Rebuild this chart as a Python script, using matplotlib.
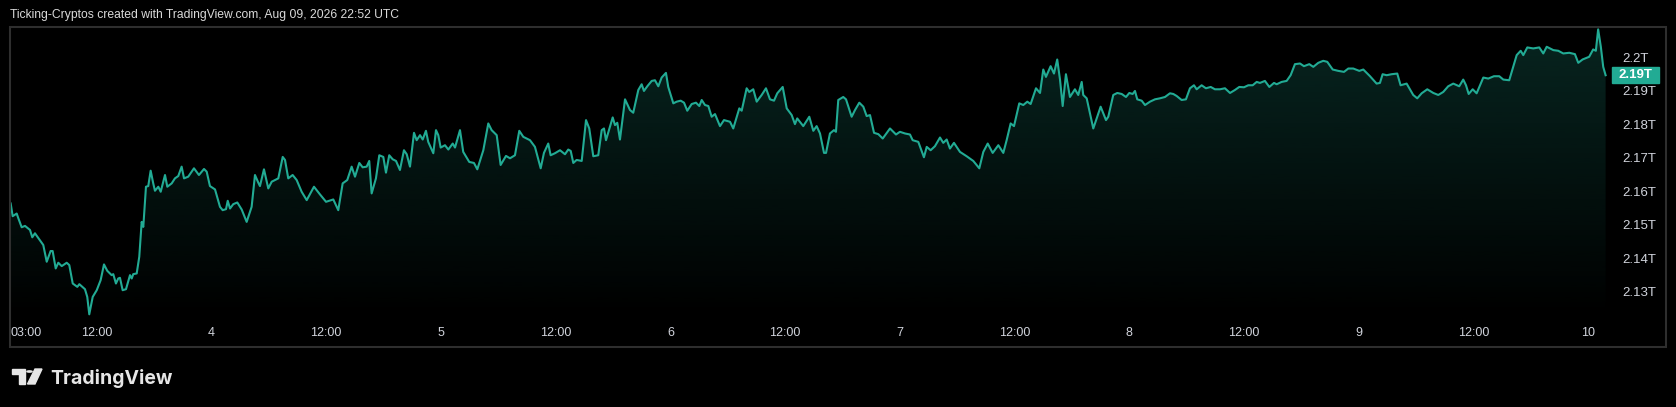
import numpy as np
import matplotlib.pyplot as plt
from matplotlib.patches import Rectangle, Polygon, Circle
from matplotlib.transforms import blended_transform_factory
from matplotlib.ticker import FuncFormatter

# hours since Aug 3 00:00 (chart time zone)
hours = [
    3.00, 3.21, 3.63, 3.80, 4.15, 4.50, 5.02, 5.26, 5.54, 6.41, 6.77, 7.18, 7.39, 7.71, 7.98, 8.34,
    8.86, 9.13, 9.49, 9.97, 10.18, 10.77, 11.01, 11.22, 11.58, 12.00, 12.41, 12.76, 13.10, 13.56, 13.73, 14.01,
    14.25, 14.43, 14.71, 15.06, 15.48, 15.66, 15.82, 16.18, 16.45, 16.70, 16.87, 17.15, 17.39, 17.64, 17.91, 18.09,
    18.44, 18.69, 19.14, 19.38, 19.84, 20.18, 20.53, 20.88, 21.13, 21.57, 22.17, 22.69, 23.22, 23.50, 23.84, 24.37,
    24.89, 25.17, 25.52, 25.70, 25.94, 26.28, 26.70, 27.16, 27.68, 28.20, 28.55, 28.90, 29.07, 29.49, 29.94, 30.30,
    30.99, 31.45, 31.69, 32.03, 32.49, 32.91, 33.43, 33.96, 34.72, 35.35, 35.98, 36.74, 37.26, 37.72, 38.20, 38.66,
    39.01, 39.46, 39.81, 40.23, 40.50, 40.75, 41.20, 41.55, 41.97, 42.25, 42.59, 42.95, 43.30, 43.71, 44.13, 44.42,
    44.76, 45.18, 45.46, 45.81, 46.09, 46.43, 46.67, 47.20, 47.48, 47.72, 47.97, 48.42, 48.77, 49.23, 49.47, 49.99,
    50.33, 50.96, 51.45, 51.80, 52.43, 52.95, 53.30, 53.83, 54.24, 54.80, 55.22, 55.74, 56.19, 56.61, 57.31, 57.83,
    58.43, 58.77, 59.22, 59.47, 59.92, 60.45, 60.97, 61.31, 61.57, 61.84, 62.19, 62.72, 63.17, 63.51, 63.93, 64.45,
    64.81, 65.05, 65.26, 65.96, 66.20, 66.44, 66.72, 67.25, 67.77, 68.11, 68.64, 68.99, 69.23, 69.58, 70.04, 70.38,
    70.73, 71.08, 71.53, 71.77, 72.30, 72.65, 73.07, 73.42, 73.76, 74.22, 74.67, 75.02, 75.27, 75.61, 75.96, 76.31,
    76.66, 77.18, 77.60, 78.23, 78.57, 79.20, 79.45, 79.97, 80.24, 80.66, 81.02, 81.54, 81.99, 82.41, 82.83, 83.17,
    83.74, 84.16, 84.68, 85.02, 85.26, 85.89, 86.52, 86.94, 87.29, 87.64, 88.06, 88.27, 88.68, 89.10, 89.31, 89.55,
    90.07, 90.36, 90.95, 91.30, 91.75, 92.17, 92.52, 92.87, 93.29, 93.74, 94.20, 94.96, 95.59, 96.00, 96.53, 97.05,
    97.33, 97.92, 98.51, 98.80, 99.21, 99.66, 100.19, 100.53, 100.89, 101.23, 101.65, 102.28, 102.98, 103.67, 104.30, 104.72,
    105.18, 105.70, 106.29, 106.81, 107.16, 107.58, 107.93, 108.48, 108.90, 109.32, 109.67, 110.23, 110.65, 110.99, 111.27, 111.76,
    112.11, 112.45, 112.74, 113.02, 113.36, 113.78, 114.30, 114.65, 115.01, 115.17, 115.53, 116.22, 116.99, 117.55, 117.79, 118.31,
    118.73, 119.19, 119.64, 119.99, 120.34, 120.58, 120.82, 121.28, 121.63, 122.15, 122.67, 123.19, 123.72, 124.24, 124.59, 124.94,
    125.46, 125.91, 126.33, 126.75, 127.03, 127.55, 128.00, 128.50, 128.94, 129.47, 129.99, 130.52, 131.04, 131.49, 131.98, 132.43,
    132.89, 133.31, 133.65, 134.17, 134.63, 135.12, 135.40, 135.92, 136.44, 136.86, 137.31, 137.84, 138.25, 138.81, 139.23, 139.75,
    140.27, 140.69, 141.26, 141.84, 142.44, 142.89, 143.41, 144.04, 144.46, 145.16, 145.85, 146.20, 146.48, 146.90, 147.42, 148.01,
    148.36, 148.99, 149.68, 150.10, 150.56, 151.15, 151.78, 152.30, 152.82, 153.34, 153.87, 154.49, 154.91, 155.20, 155.48, 155.90,
    156.31, 157.01, 157.53, 158.12, 158.68, 159.10, 159.72, 160.08, 160.50, 160.92, 161.19, 161.61, 162.23, 162.86, 163.28, 163.64,
    164.33, 164.85, 165.37, 166.00, 166.59, 166.94, 167.39, 168.08, 168.50, 168.78, 169.02, 169.30, 169.55, 169.80,
]

# total market cap, billions USD
cap_b = [
    2156.3, 2152.5, 2153.3, 2151.9, 2149.2, 2149.6, 2148.4, 2146.2, 2147.4, 2143.9, 2138.9, 2142.1, 2142.1, 2136.9, 2138.6, 2137.6,
    2138.6, 2137.9, 2132.4, 2131.4, 2132.2, 2130.7, 2128.4, 2123.2, 2128.4, 2130.4, 2133.4, 2138.1, 2136.2, 2134.9, 2135.2, 2132.4,
    2133.9, 2134.1, 2130.4, 2130.7, 2134.9, 2133.9, 2135.2, 2135.4, 2140.4, 2150.8, 2149.3, 2161.3, 2161.5, 2166.1, 2162.3, 2160.1,
    2161.3, 2159.8, 2164.8, 2161.3, 2162.3, 2163.8, 2164.5, 2167.3, 2163.8, 2164.3, 2166.8, 2164.8, 2166.6, 2165.8, 2161.5, 2160.5,
    2155.3, 2154.3, 2154.6, 2157.1, 2154.8, 2156.1, 2156.6, 2154.5, 2150.8, 2155.3, 2164.8, 2162.5, 2161.5, 2166.5, 2160.8, 2162.8,
    2163.8, 2170.2, 2169.3, 2163.8, 2164.8, 2163.3, 2159.8, 2157.3, 2161.3, 2159.0, 2156.8, 2157.5, 2154.3, 2162.3, 2163.3, 2167.3,
    2164.3, 2168.4, 2167.1, 2167.3, 2169.0, 2159.3, 2163.8, 2170.7, 2170.2, 2165.5, 2170.7, 2169.5, 2169.0, 2166.3, 2172.2, 2171.0,
    2167.3, 2177.4, 2175.2, 2176.7, 2175.4, 2178.0, 2174.7, 2171.3, 2178.2, 2176.7, 2173.0, 2173.7, 2172.4, 2174.2, 2173.0, 2178.2,
    2171.7, 2168.7, 2168.4, 2166.5, 2172.2, 2180.2, 2178.2, 2176.7, 2167.8, 2170.5, 2169.8, 2170.7, 2178.0, 2176.2, 2175.2, 2173.2,
    2166.8, 2171.4, 2174.2, 2170.7, 2171.3, 2172.2, 2171.0, 2172.4, 2172.0, 2168.4, 2169.3, 2169.0, 2181.2, 2178.7, 2170.4, 2170.7,
    2178.2, 2178.7, 2175.2, 2182.0, 2179.7, 2180.4, 2175.4, 2187.4, 2184.2, 2183.4, 2190.2, 2191.9, 2189.9, 2191.3, 2192.9, 2193.1,
    2191.3, 2193.9, 2195.3, 2191.1, 2186.2, 2186.7, 2187.0, 2186.4, 2184.0, 2186.0, 2186.4, 2185.4, 2187.2, 2185.7, 2185.4, 2182.2,
    2183.0, 2179.4, 2181.2, 2180.7, 2178.7, 2184.7, 2184.0, 2190.7, 2189.6, 2190.4, 2186.7, 2188.7, 2190.7, 2187.4, 2187.0, 2189.2,
    2191.1, 2184.7, 2182.7, 2180.0, 2181.7, 2179.4, 2182.2, 2178.0, 2179.4, 2177.2, 2171.4, 2171.4, 2177.2, 2178.2, 2177.7, 2187.2,
    2188.1, 2187.4, 2182.2, 2184.2, 2186.4, 2185.2, 2182.4, 2182.7, 2177.4, 2177.0, 2175.7, 2178.7, 2176.9, 2177.7, 2177.2, 2176.9,
    2175.2, 2174.7, 2170.1, 2173.2, 2172.2, 2173.4, 2176.0, 2174.4, 2175.4, 2172.7, 2174.4, 2171.7, 2170.4, 2169.0, 2166.8, 2171.7,
    2174.2, 2171.4, 2173.7, 2171.4, 2175.2, 2180.2, 2179.4, 2186.2, 2185.7, 2186.7, 2186.0, 2190.7, 2189.3, 2196.3, 2194.1, 2197.3,
    2195.1, 2199.3, 2193.3, 2185.4, 2194.9, 2188.1, 2190.4, 2188.7, 2192.6, 2188.7, 2187.7, 2178.7, 2185.2, 2181.2, 2182.2, 2188.7,
    2189.3, 2189.0, 2188.1, 2189.3, 2189.0, 2189.9, 2187.4, 2187.0, 2185.7, 2186.7, 2187.4, 2187.7, 2188.1, 2189.2, 2189.0, 2188.4,
    2187.2, 2187.4, 2190.7, 2191.6, 2190.4, 2191.6, 2190.7, 2191.1, 2190.4, 2190.4, 2190.7, 2189.3, 2190.2, 2191.1, 2191.0, 2191.6,
    2191.6, 2192.6, 2192.3, 2192.9, 2191.1, 2192.3, 2191.9, 2192.6, 2192.9, 2194.6, 2197.9, 2198.1, 2197.3, 2197.9, 2197.1, 2198.3,
    2198.9, 2198.6, 2196.3, 2195.9, 2195.6, 2196.6, 2196.6, 2195.9, 2196.3, 2194.3, 2192.1, 2192.3, 2194.9, 2194.6, 2194.9, 2195.1,
    2191.6, 2192.1, 2188.7, 2187.7, 2189.2, 2190.4, 2189.3, 2188.7, 2189.6, 2191.3, 2192.1, 2191.3, 2193.3, 2191.6, 2189.0, 2190.4,
    2189.2, 2193.9, 2193.6, 2194.3, 2194.3, 2193.3, 2193.1, 2196.6, 2200.6, 2201.9, 2200.6, 2202.9, 2202.6, 2202.9, 2201.1, 2203.1,
    2202.1, 2201.9, 2201.1, 2201.3, 2200.9, 2198.3, 2199.3, 2200.1, 2202.3, 2201.9, 2208.3, 2203.1, 2197.1, 2194.6,
]

x_ticks = [3, 12, 24, 36, 48, 60, 72, 84, 96, 108, 120, 132, 144, 156, 168]
x_labels = ["03:00", "12:00", "4", "12:00", "5", "12:00", "6", "12:00", "7", "12:00", "8", "12:00", "9", "12:00", "10"]
y_ticks = [2130, 2140, 2150, 2160, 2170, 2180, 2190, 2200]

title = "Ticking-Cryptos created with TradingView.com, Aug 09, 2026 22:52 UTC"

W, H = 1676, 407
teal = "#22ab94"
txt_col = "#d1d4dc"
plt.rcParams["font.family"] = ["Liberation Sans", "DejaVu Sans"]


def fx(px):
    return px / W


def fy(py):
    return 1 - py / H


fig = plt.figure(figsize=(W / 100, H / 100), dpi=100, facecolor="black")

# outer frame
fig.patches.append(Rectangle((fx(10), fy(347)), fx(1666) - fx(10), fy(27) - fy(347),
                             transform=fig.transFigure, fill=False, ec="#2e2e2e", lw=1.5))

ax = fig.add_axes([fx(10), fy(318), fx(1608) - fx(10), fy(27) - fy(318)])
ax.set_facecolor("black")
t = np.array(hours)
v = np.array(cap_b)
xlo, xhi = 2.93, 170.05
ylo, yhi = 2122.1, 2209.0

# gradient area under the line
poly = ax.fill_between(t, v, ylo, color="none", lw=0)
grad = np.zeros((256, 1, 4))
grad[..., :3] = np.array([34, 171, 148]) / 255
grad[..., 3] = np.linspace(0.22, 0.0, 256).reshape(-1, 1)
img = ax.imshow(grad, extent=[xlo, xhi, ylo, v.max()], aspect="auto", origin="upper", zorder=1)
img.set_clip_path(poly.get_paths()[0], transform=ax.transData)
ax.plot(t, v, color=teal, lw=1.5, zorder=3, solid_joinstyle="round")

ax.set_xlim(xlo, xhi)
ax.set_ylim(ylo, yhi)
for s in ax.spines.values():
    s.set_visible(False)

ax.set_xticks([])
tr = blended_transform_factory(ax.transData, ax.transAxes)
for xt, lab in zip(x_ticks, x_labels):
    ax.text(xt, -0.0515, lab, transform=tr, ha="left" if lab == "03:00" else "center",
            va="center", color=txt_col, fontsize=9)

ax.yaxis.tick_right()
ax.set_yticks(y_ticks)
ax.yaxis.set_major_formatter(FuncFormatter(lambda y, p: f"{y / 1000:.2f}".rstrip("0") + "T"))
ax.tick_params(axis="y", length=0, pad=10, labelsize=9.5, labelcolor=txt_col)

# last value badge
last = v[-1]
tb = blended_transform_factory(ax.transAxes, ax.transData)
ax.add_patch(Rectangle((1602 / 1598, last - 8 * 0.2985), 47 / 1598, 16 * 0.2985,
                       transform=tb, color=teal, clip_on=False, zorder=5))
ax.text(1625.5 / 1598, last, f"{last / 1000:.2f}T", transform=tb, ha="center", va="center",
        color="white", fontsize=9.5, fontweight="bold", zorder=6)

fig.text(fx(10), fy(15), title, ha="left", va="center", color="#d9d9d9", fontsize=8.7)

# TradingView logo
logo_col = "#e6e6e6"
fig.patches.append(Polygon([(fx(12), fy(369)), (fx(25), fy(369)), (fx(25), fy(384)),
                            (fx(19), fy(384)), (fx(19), fy(374)), (fx(12), fy(374))],
                           transform=fig.transFigure, color=logo_col))
fig.patches.append(Circle((fx(29.5), fy(371.5)), 2.6 / W, transform=fig.transFigure, color=logo_col))
fig.patches.append(Polygon([(fx(35), fy(369)), (fx(42), fy(369)), (fx(35), fy(384)), (fx(27.5), fy(384))],
                           transform=fig.transFigure, color=logo_col))
fig.text(fx(50), fy(383.5), "TradingView", ha="left", va="baseline", color=logo_col,
         fontsize=14, fontweight="bold", family=["Inter", "DejaVu Sans"])

fig.savefig("out.png", dpi=100, facecolor="black")
